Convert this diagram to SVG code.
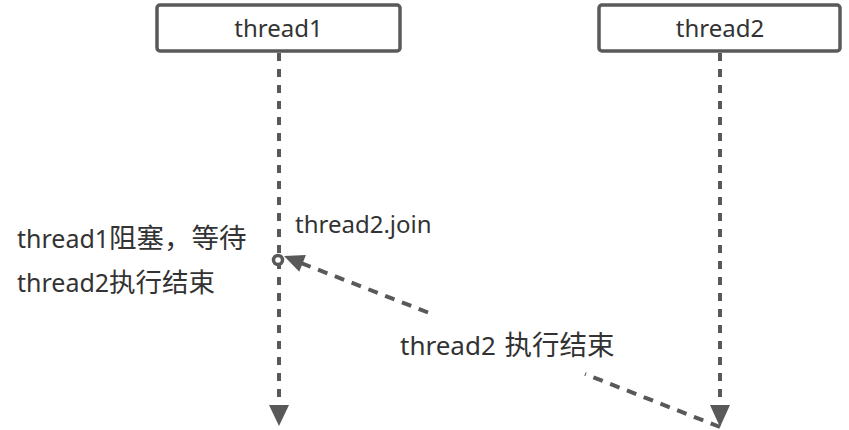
<svg xmlns="http://www.w3.org/2000/svg" width="849" height="430" viewBox="0 0 849 430">
<style>
.box{fill:#fff;stroke:#595959;stroke-width:3.5}
.txt{font-family:"Noto Sans","Noto Sans CJK SC",sans-serif;font-size:24px;fill:#333}
.life{stroke:#595959;stroke-width:4;stroke-dasharray:8 8;fill:none}
.msg{stroke:#595959;stroke-width:4;stroke-dasharray:10 8;fill:none}
.head{fill:#595959}
</style>
<rect width="849" height="430" fill="#fff"/>
<g id="thread1">
<rect class="box" x="157" y="5" width="243" height="46" rx="3"/>
<text class="txt" x="278.5" y="37" text-anchor="middle">thread1</text>
</g>
<g id="thread2">
<rect class="box" x="599" y="5" width="241" height="46" rx="3"/>
<text class="txt" x="720" y="37" text-anchor="middle">thread2</text>
</g>
<g id="connectors">
<line class="life" x1="279" y1="53" x2="279" y2="406"/>
<polygon class="head" points="269,405 289,405 279,426"/>
<line class="life" x1="720" y1="53" x2="720" y2="406"/>
<polygon class="head" points="710,405 730,405 720,427"/>
<line class="msg" x1="720" y1="427" x2="585" y2="374"/>
<line class="msg" x1="428" y1="312.5" x2="301" y2="263"/>
<polygon class="head" points="284,256 305.9,254.9 299.3,271.7"/>
<circle cx="278" cy="260" r="4.5" fill="#fff" stroke="#595959" stroke-width="3.5"/>
</g>
<g id="labels">
<text class="txt" x="295" y="233">thread2.join</text>
<text class="txt" x="400" y="355" style="font-size:26px">thread2 <tspan dx="2" style="font-size:27.5px">执行结束</tspan></text>
<text class="txt" x="17" y="248" style="font-size:25px">thread1<tspan style="font-size:27.5px">阻塞，等待</tspan></text>
<text class="txt" x="17" y="292" style="font-size:25px">thread2<tspan style="font-size:26.5px">执行结束</tspan></text>
</g>
</svg>
